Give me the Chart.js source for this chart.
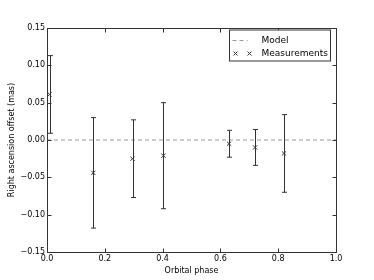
<!DOCTYPE html>
<html>
<head>
<meta charset="utf-8">
<script src="https://cdn.jsdelivr.net/npm/chart.js@4"></script>
<style>
	html, body { margin: 0; padding: 0; background: #fff; }
	#wrap { width: 374px; height: 280px; }
</style>
</head>
<body>
<div id="wrap"><canvas id="chart" width="374" height="280"></canvas></div>
<script>
const phase = [0.009, 0.160, 0.296, 0.403, 0.630, 0.720, 0.820];
const offset = [0.061, -0.044, -0.025, -0.021, -0.005, -0.010, -0.018];
const errors = [0.052, 0.074, 0.052, 0.071, 0.018, 0.024, 0.052];

const modelX = [0, 1];
const modelY = [0, 0];

const legendLabels = ['Model', 'Measurements'];

const FONT = 'DejaVu Sans';
const INK = '#333';

const minus = v => v.replace('-', '\u2212');

// error bars, drawn from the scales
const errorBars = {
	id: 'errorBars',
	afterDatasetsDraw(chart) {
		const ctx = chart.ctx;
		const xs = chart.scales.x, ys = chart.scales.y;
		ctx.save();
		ctx.strokeStyle = INK;
		ctx.lineWidth = 1;
		phase.forEach((p, i) => {
			const px = Math.round(xs.getPixelForValue(p)) + 0.5;
			const top = ys.getPixelForValue(offset[i] + errors[i]);
			const bot = ys.getPixelForValue(offset[i] - errors[i]);
			ctx.beginPath();
			ctx.moveTo(px, top);
			ctx.lineTo(px, bot);
			ctx.moveTo(px - 2.5, top);
			ctx.lineTo(px + 2.5, top);
			ctx.moveTo(px - 2.5, bot);
			ctx.lineTo(px + 2.5, bot);
			ctx.stroke();
		});
		ctx.restore();
	}
};

// matplotlib style frame with inward ticks, plus the legend box
const frame = {
	id: 'frame',
	afterDraw(chart) {
		const ctx = chart.ctx;
		const a = chart.chartArea;
		const xs = chart.scales.x, ys = chart.scales.y;
		ctx.save();
		ctx.strokeStyle = '#333';
		ctx.lineWidth = 1;
		const L = Math.round(a.left) + 0.5, R = Math.round(a.right) + 0.5;
		const T = Math.round(a.top) + 0.5, B = Math.round(a.bottom) + 0.5;
		ctx.strokeRect(L, T, R - L, B - T);
		ctx.beginPath();
		xs.ticks.forEach(t => {
			const px = Math.round(xs.getPixelForValue(t.value)) + 0.5;
			ctx.moveTo(px, B); ctx.lineTo(px, B - 4);
			ctx.moveTo(px, T); ctx.lineTo(px, T + 4);
		});
		ys.ticks.forEach(t => {
			const py = Math.round(ys.getPixelForValue(t.value)) + 0.5;
			ctx.moveTo(L, py); ctx.lineTo(L + 4, py);
			ctx.moveTo(R, py); ctx.lineTo(R - 4, py);
		});
		ctx.stroke();

		// legend
		const bx = R - 107, by = T + 1.5, bw = 101, bh = 31;
		ctx.fillStyle = '#fff';
		ctx.fillRect(bx, by, bw, bh);
		ctx.strokeStyle = '#333';
		ctx.strokeRect(bx, by, bw, bh);
		const r1 = by + 10.5, r2 = by + 23.5;
		ctx.strokeStyle = '#999';
		ctx.setLineDash([4, 3]);
		ctx.beginPath();
		ctx.moveTo(bx + 3, r1); ctx.lineTo(bx + 18, r1);
		ctx.stroke();
		ctx.setLineDash([]);
		ctx.strokeStyle = INK;
		ctx.beginPath();
		[bx + 6, bx + 20].forEach(cx => {
			ctx.moveTo(cx - 2, r2 - 2); ctx.lineTo(cx + 2, r2 + 2);
			ctx.moveTo(cx - 2, r2 + 2); ctx.lineTo(cx + 2, r2 - 2);
		});
		ctx.stroke();
		ctx.fillStyle = '#000';
		ctx.font = '9px "' + FONT + '"';
		ctx.textBaseline = 'middle';
		ctx.fillText(legendLabels[0], bx + 32, r1);
		ctx.fillText(legendLabels[1], bx + 32, r2);
		ctx.restore();
	}
};

new Chart(document.getElementById('chart'), {
	type: 'scatter',
	data: {
		datasets: [
			{
				label: legendLabels[0],
				type: 'line',
				data: modelX.map((x, i) => ({ x: x, y: modelY[i] })),
				borderColor: '#999',
				borderWidth: 1,
				borderDash: [4, 3],
				pointRadius: 0,
				fill: false,
			},
			{
				label: legendLabels[1],
				data: phase.map((p, i) => ({ x: p, y: offset[i] })),
				pointStyle: 'crossRot',
				pointRadius: 3,
				borderColor: INK,
				borderWidth: 1,
			},
		],
	},
	options: {
		responsive: false,
		animation: false,
		layout: { padding: { top: 28, right: 38, left: 0, bottom: 0 } },
		plugins: {
			legend: { display: false },
			tooltip: { enabled: false },
		},
		scales: {
			x: {
				type: 'linear',
				min: 0,
				max: 1,
				grid: { display: false, drawTicks: false },
				border: { display: false },
				afterFit: s => { s.height = 28; },
				ticks: {
					stepSize: 0.2,
					padding: 2,
					color: '#000',
					font: { family: FONT, size: 8 },
					callback: v => v.toFixed(1),
				},
				title: {
					display: true,
					text: 'Orbital phase',
					color: '#000',
					font: { family: FONT, size: 8 },
					padding: { top: 0, bottom: 4 },
				},
			},
			y: {
				min: -0.15,
				max: 0.15,
				grid: { display: false, drawTicks: false },
				border: { display: false },
				afterFit: s => { s.width = 47; },
				ticks: {
					stepSize: 0.05,
					padding: 2,
					color: '#000',
					font: { family: FONT, size: 8 },
					callback: v => minus(v.toFixed(2)),
				},
				title: {
					display: true,
					text: 'Right ascension offset (mas)',
					color: '#000',
					font: { family: FONT, size: 8 },
					padding: { top: 7, bottom: 0 },
				},
			},
		},
	},
	plugins: [errorBars, frame],
});
</script>
</body>
</html>
